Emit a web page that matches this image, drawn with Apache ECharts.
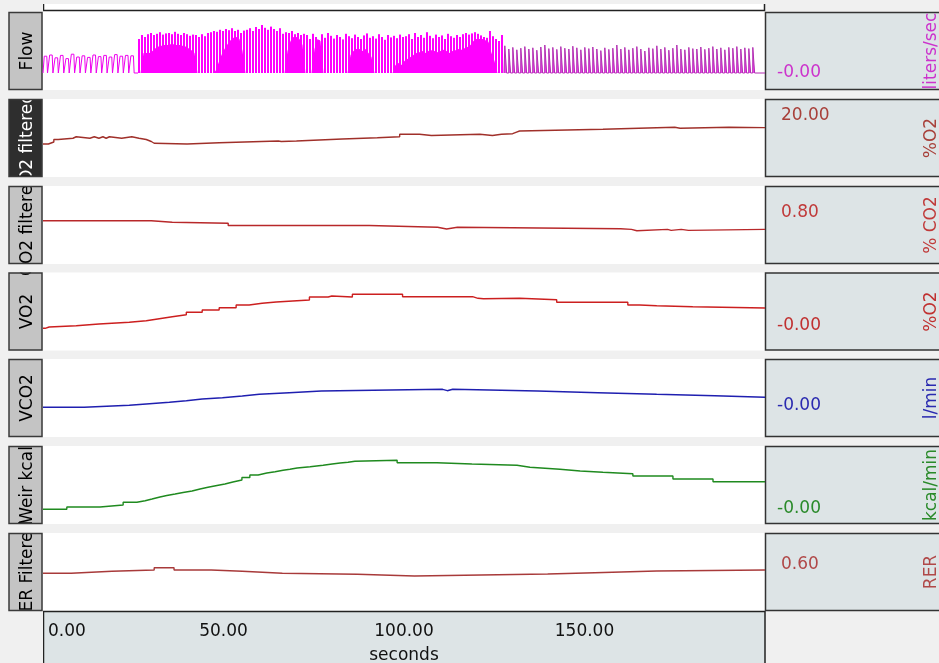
<!DOCTYPE html>
<html><head><meta charset="utf-8">
<script src="https://cdn.jsdelivr.net/npm/echarts@6/dist/echarts.min.js"></script>
<style>html,body{margin:0;padding:0;background:#f0f0f0;overflow:hidden}#c{width:939px;height:663px}</style>
</head><body><div id="c"></div>
<script>
// ---------------- DATA ----------------
const channelNames = ['Flow', 'O2 filtered', 'CO2 filtered', 'VO2', 'VCO2', 'Weir kcal', 'RER Filtered'];
const unitLabels = ['liters/sec', '%O2', '% CO2', '%O2', 'l/min', 'kcal/min', 'RER'];
const scaleLabels = ['-0.00', '20.00', '0.80', '-0.00', '-0.00', '-0.00', '0.60'];
const scaleLabelValues = [0, 20, 0.8, 0, 0, 0, 0.6];
const xTickLabels = ['0.00', '50.00', '100.00', '150.00'];
const xAxisName = 'seconds';

// Flow (liters/sec): resting breaths (peak of each breath)
const flowSmallPeaks = [0.42, 0.45, 0.38, 0.44, 0.36, 0.47, 0.40, 0.43, 0.39, 0.45, 0.41, 0.44, 0.40, 0.46, 0.42, 0.44, 0.43];
// exercise: peak and trough of each oscillation
const flowMidPeaks = [0.85, 0.95, 0.90,
  0.97, 1.00, 0.95, 0.98, 1.02, 0.96, 0.99, 1.00, 0.97, 1.03, 0.98, 0.95, 1.00, 0.97, 0.93, 0.96,
  0.95, 0.90, 0.97, 0.92,
  1.00, 1.02, 1.05, 1.03, 1.08, 1.05, 1.10, 1.07, 1.12, 1.05, 1.08, 1.00, 1.06,
  1.08, 1.12, 1.05, 1.15, 1.10, 1.20, 1.13, 1.08, 1.16, 1.10, 1.05, 1.12,
  0.98, 1.02, 1.00, 1.05, 0.97, 1.00, 0.95, 0.98,
  0.95, 0.85, 0.98, 0.90, 0.82, 0.97, 0.88, 1.00, 0.93, 0.86, 0.95, 0.90, 0.84, 0.98, 0.92, 0.87, 0.96,
  0.90, 0.85, 0.94, 0.99, 0.88, 0.92, 0.86, 0.97, 0.90, 0.83, 0.95, 0.89, 0.93, 0.87, 0.96, 0.90,
  0.92, 0.97, 0.85, 1.00, 0.90, 0.95, 0.88, 1.02, 0.93, 0.87, 0.96, 0.90, 0.94, 0.85, 0.98, 0.92, 0.88,
  0.95, 0.90, 0.97, 1.00, 0.96, 0.99, 1.02, 0.98, 0.94, 0.90, 0.88, 1.05, 0.92, 0.85, 0.80, 0.95];
const flowMidTroughs = [0,
  0.50, 0.50, 0.50, 0.55,
  0.62, 0.66, 0.68, 0.70, 0.70, 0.72, 0.72, 0.70, 0.70, 0.68, 0.66, 0.62, 0.57, 0.50,
  0, 0, 0, 0, 0, 0,
  0.05, 0.25, 0.45, 0.60, 0.72, 0.82, 0.88, 0.90, 0.85, 0.55,
  0, 0, 0, 0, 0, 0, 0, 0, 0, 0, 0, 0, 0, 0,
  0.55, 0.80, 0.90, 0.90, 0.85, 0.70,
  0, 0, 0,
  0.60, 0.85, 0.80,
  0, 0, 0, 0, 0, 0, 0, 0, 0,
  0.45, 0.55, 0.60, 0.60, 0.55, 0.60, 0.50, 0.40,
  0, 0, 0, 0, 0, 0, 0,
  0.20, 0.25, 0.20, 0.30, 0.35, 0.40, 0.45,
  0.50, 0.52, 0.55, 0.50, 0.55, 0.57, 0.55, 0.52, 0.55, 0.58, 0.55, 0.50, 0.55, 0.57, 0.60, 0.58, 0.62, 0.65, 0.70,
  0.80, 0.85, 0.85, 0.85, 0.82, 0.78,
  0.50, 0.30, 0, 0, 0];
const flowLatePeaks = [0.68, 0.60, 0.64, 0.58, 0.62, 0.66, 0.60, 0.63, 0.57, 0.65, 0.70, 0.61, 0.64, 0.59, 0.66, 0.62,
  0.60, 0.67, 0.63, 0.58, 0.64, 0.61, 0.65, 0.60, 0.56, 0.63, 0.59, 0.62, 0.70, 0.60, 0.64, 0.58, 0.62, 0.66,
  0.60, 0.55, 0.63, 0.61, 0.68, 0.60, 0.64, 0.57, 0.62, 0.70, 0.60, 0.58, 0.64, 0.61, 0.60, 0.65, 0.59, 0.62,
  0.66, 0.60, 0.63, 0.58, 0.64, 0.62, 0.66, 0.60, 0.63, 0.61, 0.64];

// step traces: [seconds, value] (value holds until next point)
const o2Data = [[0, 19.44], [1.5, 19.48], [3.0, 19.53], [4.2, 19.555], [8.3, 19.585], [9.2, 19.555], [13.0, 19.585], [14.2, 19.555],
  [15.5, 19.585], [16.6, 19.555], [17.5, 19.585], [18.4, 19.555], [21.8, 19.585], [24.6, 19.555], [26.6, 19.53], [28.6, 19.49],
  [30.0, 19.455], [30.8, 19.44], [39.9, 19.465], [48.8, 19.50], [65.2, 19.49], [66.0, 19.50], [70.2, 19.54], [82.9, 19.566],
  [92.6, 19.586], [98.8, 19.634], [104.3, 19.61], [107.6, 19.634], [121.0, 19.61], [124.5, 19.634], [127.0, 19.646],
  [130.1, 19.674], [131.0, 19.70], [132.0, 19.734], [155.1, 19.765], [170.0, 19.775], [175.0, 19.755], [176.5, 19.775],
  [190.0, 19.768], [200, 19.768]];
const co2Data = [[0, 0.723], [30.0, 0.707], [35.8, 0.697], [51.3, 0.675], [90.4, 0.657], [109.3, 0.64], [111.8, 0.657],
  [114.8, 0.642], [160.0, 0.636], [163.0, 0.622], [164.5, 0.636], [173.0, 0.626], [174.0, 0.636], [176.8, 0.626],
  [178.8, 0.636], [200, 0.636]];
const vo2Data = [[0, -0.046], [0.6, -0.02], [1.7, 0.006], [9.2, 0.04], [15.5, 0.074], [23.9, 0.106], [28.6, 0.146],
  [32.2, 0.186], [35.8, 0.226], [39.7, 0.274], [44.1, 0.32], [48.8, 0.366], [53.5, 0.42], [57.1, 0.454], [60.7, 0.48],
  [64.6, 0.52], [73.8, 0.58], [79.0, 0.60], [80.0, 0.58], [85.7, 0.634], [99.6, 0.586], [119.0, 0.554], [120.5, 0.545],
  [122.0, 0.554], [132.0, 0.526], [142.3, 0.474], [162.0, 0.42], [165.3, 0.406], [170.0, 0.386], [180.0, 0.36], [200, 0.36]];
const vco2Data = [[0, -0.026], [11.4, 0.014], [23.9, 0.04], [28.6, 0.074], [35.0, 0.106], [39.7, 0.14], [44.1, 0.166],
  [49.7, 0.2], [55.2, 0.234], [59.9, 0.266], [68.2, 0.30], [77.1, 0.334], [110.7, 0.306], [112.0, 0.334], [113.5, 0.30],
  [137.0, 0.266], [153.7, 0.234], [170.0, 0.206], [186.1, 0.174], [200, 0.174]];
const weirData = [[0, -0.05], [6.6, 0.065], [15.8, 0.165], [22.2, 0.30], [26.0, 0.38], [28.3, 0.465], [30.2, 0.565],
  [32.4, 0.64], [34.3, 0.715], [36.6, 0.79], [38.8, 0.865], [41.3, 0.965], [43.5, 1.05], [45.7, 1.14], [48.2, 1.215],
  [50.4, 1.315], [52.6, 1.415], [55.1, 1.54], [57.3, 1.665], [59.6, 1.765], [62.0, 1.83], [64.3, 1.90], [66.5, 1.95],
  [68.4, 2.015], [70.4, 2.08], [74.0, 2.15], [77.6, 2.215], [80.1, 2.265], [82.3, 2.30], [84.5, 2.35], [86.4, 2.40],
  [98.1, 2.28], [109.1, 2.215], [118.8, 2.15], [131.3, 2.05], [134.9, 1.95], [143.2, 1.865], [148.8, 1.80],
  [155.1, 1.73], [163.4, 1.615], [174.5, 1.465], [185.6, 1.33], [200, 1.33]];
const rerData = [[0, 0.51], [7.8, 0.53], [19.1, 0.543], [30.8, 0.566], [36.3, 0.543], [46.6, 0.53], [55.2, 0.51],
  [66.3, 0.50], [87.1, 0.483], [102.9, 0.503], [139.8, 0.516], [152.8, 0.533], [170.0, 0.543], [200, 0.543]];

// ---------------- LAYOUT / STYLE ----------------
const FONT = '"DejaVu Sans", sans-serif';
const tops = [12, 99, 186, 272.5, 359, 446, 533];
const H = 78;
const PLOT_L = 43, PLOT_W = 722;
const yRanges = [[-0.425, 1.525], [18.78, 20.34], [0.29, 1.07], [-0.49, 1.07], [-0.62, 0.94], [-0.785, 3.115], [0.133, 0.913]];
const lineColors = ['#ff00ff', '#a0302a', '#b8282a', '#cc1f1f', '#1f1fb0', '#1f8a1f', '#a83a3a'];
const textColors = ['#cc33cc', '#a8403a', '#c03a3a', '#c03030', '#2a2ab0', '#2a8a2a', '#b04848'];

// timing of the flow oscillations (seconds)
const SMALL_START = 0.15, SMALL_STEP = 1.5;
const MID_START = 26.316, MID_STEP = 0.831, MID_HIGH = 0.554;
const LATE_START = 127.9, LATE_STEP = 1.108, LATE_HIGH = 0.5;

function smallTrace() {
  const pts = [[0, 0]];
  flowSmallPeaks.forEach((p, i) => {
    const t = SMALL_START + i * SMALL_STEP;
    pts.push([t, 0], [t + 0.2, p], [t + 0.9, p], [t + 1.1, 0]);
  });
  pts.push([MID_START, 0]);
  return pts;
}
const midPulseData = flowMidPeaks.map((p, i) => [MID_START + i * MID_STEP + MID_HIGH / 2, p]);
const midTroughData = [[MID_START, 0]].concat(
  flowMidTroughs.map((q, i) => [MID_START + i * MID_STEP + (MID_HIGH + MID_STEP) / 2, q]),
  [[MID_START + flowMidTroughs.length * MID_STEP, 0]]);
function lateTrace() {
  const pts = [[MID_START + flowMidPeaks.length * MID_STEP, 0]];
  flowLatePeaks.forEach((p, i) => {
    const t = LATE_START + i * LATE_STEP;
    pts.push([t, 0], [t + 0.03, p], [t + LATE_HIGH, p], [t + LATE_HIGH + 0.03, 0]);
  });
  pts.push([200, 0]);
  return pts;
}

const stepSets = [o2Data, co2Data, vo2Data, vco2Data, weirData, rerData];

const series = [
  { type: 'line', xAxisIndex: 0, yAxisIndex: 0, data: smallTrace(), symbol: 'none', z: 21,
    lineStyle: { color: '#ee00ee', width: 1 }, silent: true },
  { type: 'line', xAxisIndex: 0, yAxisIndex: 0, data: midTroughData, symbol: 'none', z: 20,
    lineStyle: { width: 0, opacity: 0 }, areaStyle: { color: '#ff00ff', opacity: 1 }, silent: true },
  { type: 'bar', xAxisIndex: 0, yAxisIndex: 0, data: midPulseData, barWidth: 2, z: 21,
    itemStyle: { color: '#ff00ff' }, silent: true },
  { type: 'line', xAxisIndex: 0, yAxisIndex: 0, data: lateTrace(), symbol: 'none', z: 21,
    lineStyle: { color: '#b22cb2', width: 1 }, areaStyle: { color: '#f040f0', opacity: 1 }, silent: true }
];
stepSets.forEach((d, k) => {
  const i = k + 1;
  series.push({ type: 'line', xAxisIndex: i, yAxisIndex: i, data: d, step: 'end', symbol: 'none', z: 20,
    lineStyle: { color: lineColors[i], width: 1.4 }, silent: true });
});

const chart = echarts.init(document.getElementById('c'), null, { renderer: 'canvas', width: 939, height: 663 });

const option = {
  backgroundColor: '#f0f0f0',
  animation: false,
  grid: tops.map(t => ({ left: PLOT_L, width: PLOT_W, top: t, height: H, show: true, backgroundColor: '#ffffff',
    borderWidth: 0, containLabel: false, outerBoundsMode: 'none' })),
  xAxis: tops.map((t, i) => ({
    type: 'value', gridIndex: i, min: 0, max: 200, interval: 50, show: i === 6, z: 50,
    axisLine: { show: false }, axisTick: { show: false }, splitLine: { show: false },
    axisLabel: {
      show: i === 6, color: '#111', fontSize: 17, fontFamily: FONT, margin: 12,
      showMaxLabel: false, alignMinLabel: 'left',
      formatter: v => { const s = xTickLabels[Math.round(v / 50)] || ''; return v === 0 ? '{a|' + s + '}' : s; },
      rich: { a: { padding: [0, 0, 0, 5], fontSize: 17, fontFamily: FONT, color: '#111' } }
    },
    name: i === 6 ? xAxisName : '', nameLocation: 'middle', nameGap: 36,
    nameTextStyle: { color: '#111', fontSize: 17, fontFamily: FONT }
  })),
  yAxis: yRanges.map((r, i) => ({ type: 'value', gridIndex: i, min: r[0], max: r[1], show: false })),
  series: series
};
chart.setOption(option);

// ---------------- DECORATION (panels, labels) ----------------
const g = [];
g.push({ type: 'rect', shape: { x: PLOT_L, y: 4, width: PLOT_W, height: 8 }, style: { fill: '#fff' }, z: 1 });
g.push({ type: 'polyline', shape: { points: [[43.5, 4], [43.5, 10.5], [764.5, 10.5], [764.5, 4]] },
  style: { stroke: '#222', lineWidth: 1.5, fill: null }, z: 5 });

tops.forEach((t, i) => {
  g.push({ type: 'rect', shape: { x: 9, y: t, width: 33, height: H }, style: { fill: i === 1 ? '#2e2e2e' : '#c4c4c4' }, z: 10 });
});
tops.forEach((t, i) => {
  g.push({ type: 'text', x: 27.5, y: t + H / 2, rotation: Math.PI / 2,
    style: { text: channelNames[i], fill: i === 1 ? '#ffffff' : '#000000', font: '17px ' + FONT, align: 'center', verticalAlign: 'middle' }, z: 12 });
});
const covers = [[0, tops[0]]];
for (let i = 0; i < 6; i++) covers.push([tops[i] + H, tops[i + 1]]);
covers.push([tops[6] + H, 663]);
covers.forEach(c => g.push({ type: 'rect', shape: { x: 0, y: c[0], width: PLOT_L, height: c[1] - c[0] }, style: { fill: '#f0f0f0' }, z: 14 }));
tops.forEach((t, i) => {
  g.push({ type: 'rect', shape: { x: 9, y: t + 0.5, width: 33, height: H - 1 }, style: { fill: null, stroke: '#3a3a3a', lineWidth: 1.5 }, z: 16 });
});

tops.forEach((t, i) => {
  g.push({ type: 'rect', shape: { x: 765.5, y: t + 0.5, width: 200, height: H - 1 }, style: { fill: '#dde4e6', stroke: '#333', lineWidth: 1.5 }, z: 10 });
  const yv = chart.convertToPixel({ yAxisIndex: i }, scaleLabelValues[i]);
  const lbl = scaleLabels[i];
  g.push({ type: 'text', x: lbl.charAt(0) === '-' ? 777 : 781, y: yv,
    style: { text: lbl, fill: textColors[i], font: '17px ' + FONT, align: 'left', verticalAlign: 'middle' }, z: 12 });
  g.push({ type: 'text', x: 932, y: t + H / 2, rotation: Math.PI / 2,
    style: { text: unitLabels[i], fill: textColors[i], font: '17px ' + FONT, align: 'center', verticalAlign: 'middle' }, z: 12 });
});

g.push({ type: 'rect', shape: { x: 43.5, y: 611.5, width: 721.5, height: 60 }, style: { fill: '#dde4e6', stroke: '#222', lineWidth: 1.5 }, z: 3 });

chart.setOption({ graphic: { elements: g } });
</script>
</body></html>
